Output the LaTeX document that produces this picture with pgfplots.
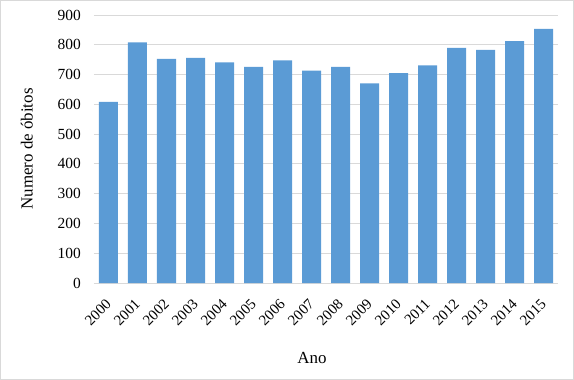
\documentclass[border=0pt]{standalone}
\usepackage{pgfplots}
\pgfplotsset{compat=1.18}
\usepackage{fontspec}
\setmainfont{Liberation Serif}
\definecolor{barblue}{HTML}{5B9BD5}
\definecolor{gridgray}{HTML}{D9D9D9}
\begin{document}
\begin{tikzpicture}[x=1bp,y=1bp]
\useasboundingbox (-94bp,-97bp) rectangle (480bp,283bp);
\draw[gridgray, line width=1bp] (-93.5bp,-96.5bp) rectangle (479.5bp,282.5bp);
\begin{axis}[
  at={(0,0)}, anchor=south west,
  scale only axis, width=464bp, height=268bp,
  ymin=0, ymax=900, ytick={0,100,...,900},
  xmin=-0.5, xmax=15.5,
  xtick={0,...,15},
  xticklabels={2000,2001,2002,2003,2004,2005,2006,2007,2008,2009,2010,2011,2012,2013,2014,2015},
  xticklabel style={rotate=45, anchor=north east, inner sep=1bp, font=\fontsize{15}{15}\selectfont, xshift=-12bp, yshift=-7bp},
  yticklabel style={font=\fontsize{15.5}{15.5}\selectfont, inner sep=2bp, xshift=-11bp},
  /pgf/number format/assume math mode=true,
  ymajorgrids, grid style={gridgray, line width=0.8bp},
  axis x line*=bottom, axis y line*=left,
  y axis line style={draw=none},
  x axis line style={gridgray, line width=0.8bp, -},
  major tick length=0pt,
  ybar, bar width=19bp,
  xlabel={Ano}, ylabel={Numero de óbitos},
  xlabel style={font=\fontsize{17}{17}\selectfont, at={(axis description cs:0.47,-0.28)}, anchor=center},
  ylabel style={font=\fontsize{17}{17}\selectfont, at={(axis description cs:-0.145,0.5)}, anchor=center},
  clip=false,
]
\addplot[fill=barblue, draw=none] coordinates {
(0,608) (1,808) (2,753) (3,756) (4,741) (5,726) (6,748) (7,713)
(8,726) (9,670) (10,705) (11,731) (12,790) (13,783) (14,812) (15,853)
};
\end{axis}
\end{tikzpicture}
\end{document}
